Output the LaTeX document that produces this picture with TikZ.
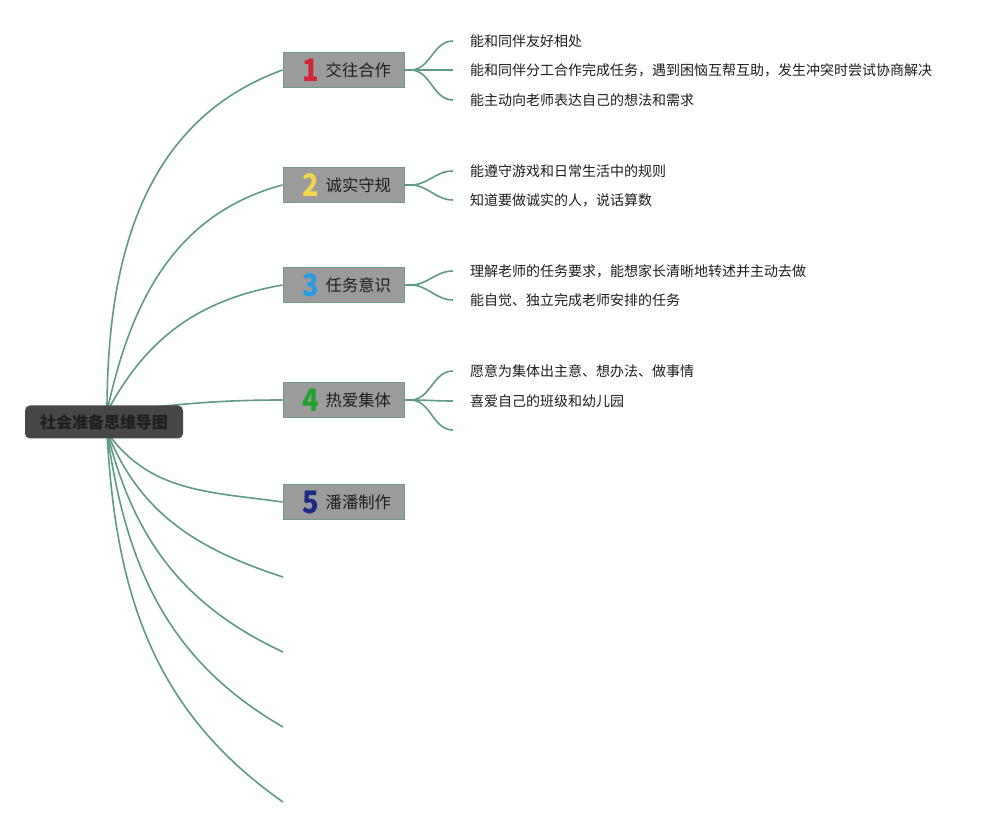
\documentclass[tikz,border=0pt]{standalone}
\usepackage{fontspec}
\usetikzlibrary{backgrounds}
\setmainfont{Noto Sans CJK SC}
\definecolor{lineC}{HTML}{5E9A87}
\definecolor{boxF}{HTML}{9B9B9B}
\definecolor{boxD}{HTML}{6E9C8C}
\definecolor{rootF}{HTML}{474747}
\definecolor{txtC}{HTML}{1E1E1E}
\definecolor{numA}{HTML}{D42336}
\definecolor{numB}{HTML}{F2D64B}
\definecolor{numC}{HTML}{2A9BE0}
\definecolor{numD}{HTML}{22A12E}
\definecolor{numE}{HTML}{1B2A86}
\newcommand{\numicon}[2]{\raisebox{-4.5pt}{\scalebox{0.88}[1]{\color{#1}\fontsize{31}{31}\selectfont\bfseries #2}}}
\tikzset{
  conn/.style={draw=lineC, line width=1.6pt},
  rootbox/.style={fill=rootF, rounded corners=5pt, minimum width=158pt, minimum height=33pt, inner sep=0pt, text=txtC, font=\fontsize{16}{18}\selectfont\bfseries},
  topicbox/.style={fill=boxF, draw=boxD, line width=1pt, minimum width=121pt, minimum height=35pt, inner sep=0pt, text=txtC, font=\fontsize{16.3}{18}\selectfont},
  leaf/.style={anchor=west, inner xsep=17pt, inner ysep=0pt, text=txtC, font=\fontsize{14}{16}\selectfont},
}
\begin{document}
\begin{tikzpicture}[x=1pt,y=1pt]
\useasboundingbox (0,0) rectangle (991,828);
% root
\node[rootbox] (root) at (104,406) {社会准备思维导图};
\coordinate (rU) at ([xshift=3pt,yshift=10pt]root.center);
\coordinate (rD) at ([xshift=3pt,yshift=-10pt]root.center);
% topics
\node[topicbox] (b1) at (343.5,758) {\hspace*{6pt}\numicon{numA}{1}\hspace{7pt}交往合作};
\node[topicbox] (b2) at (343.5,643) {\hspace*{6pt}\numicon{numB}{2}\hspace{7pt}诚实守规};
\node[topicbox] (b3) at (343.5,543) {\hspace*{6pt}\numicon{numC}{3}\hspace{7pt}任务意识};
\node[topicbox] (b4) at (343.5,428) {\hspace*{6pt}\numicon{numD}{4}\hspace{7pt}热爱集体};
\node[topicbox] (b5) at (343.5,326) {\hspace*{6pt}\numicon{numE}{5}\hspace{7pt}潘潘制作};
\coordinate (e6) at (283,251);
\coordinate (e7) at (283,176);
\coordinate (e8) at (283,101);
\coordinate (e9) at (283,26);
% leaves
\node[leaf] (l11) at (453,787) {能和同伴友好相处};
\node[leaf] (l12) at (453,758) {能和同伴分工合作完成任务，遇到困恼互帮互助，发生冲突时尝试协商解决};
\node[leaf] (l13) at (453,728) {能主动向老师表达自己的想法和需求};
\node[leaf] (l21) at (453,657) {能遵守游戏和日常生活中的规则};
\node[leaf] (l22) at (453,628) {知道要做诚实的人，说话算数};
\node[leaf] (l31) at (453,557) {理解老师的任务要求，能想家长清晰地转述并主动去做};
\node[leaf] (l32) at (453,528) {能自觉、独立完成老师安排的任务};
\node[leaf] (l41) at (453,457) {愿意为集体出主意、想办法、做事情};
\node[leaf] (l42) at (453,427) {喜爱自己的班级和幼儿园};
\coordinate (l43) at (453,398);
% connectors root -> topics (behind root)
\begin{scope}[on background layer]
\fill[white] (0,0) rectangle (991,828);
\path[conn] (rU) to[out=90,in=200] (b1.west);
\path[conn] (rU) to[out=78,in=195] (b2.west);
\path[conn] (rU) to[out=62,in=190] (b3.west);
\path[conn] (rU) to[out=6,in=180] (b4.west);
\path[conn] (rD) to[out=-55,in=172] (b5.west);
\path[conn] (rD) to[out=-68,in=162] (e6);
\path[conn] (rD) to[out=-76,in=155] (e7);
\path[conn] (rD) to[out=-82,in=150] (e8);
\path[conn] (rD) to[out=-87,in=145] (e9);
\end{scope}
% topic -> leaf connectors
\foreach \b/\l in {b1/l11,b1/l12,b1/l13,b2/l21,b2/l22,b3/l31,b3/l32,b4/l41,b4/l42,b4/l43}{
  \path[conn] (\b.east) -- ++(6,0) to[out=0,in=180] (\l.west);
}
\end{tikzpicture}
\end{document}
